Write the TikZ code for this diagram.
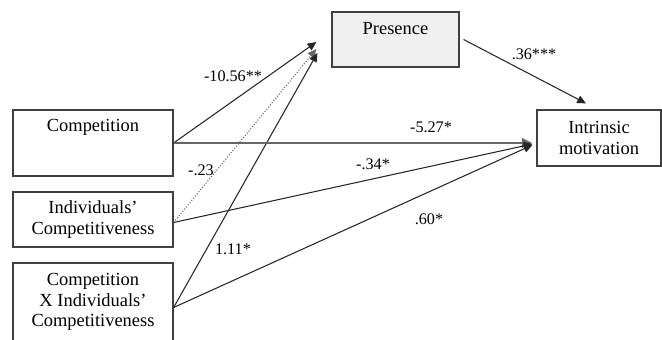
\documentclass[tikz,border=0pt]{standalone}
\usepackage{fontspec}
\setmainfont{Liberation Serif}
\usetikzlibrary{arrows.meta,calc,positioning}

\begin{document}
\begin{tikzpicture}[x=0.02cm, y=-0.02cm,
    box/.style={draw=black!75, line width=0.7pt, inner sep=2pt, align=center, font=\fontsize{10.5}{11.65}\selectfont},
    toptext/.style={anchor=north, align=center, font=\fontsize{10.5}{11.65}\selectfont},
    link/.style={draw=black!85, line width=0.6pt, -{Triangle[length=5pt,width=4.5pt]}},
    mainlink/.style={draw=black!60, line width=1.3pt, -{Triangle[length=6pt,width=5.5pt]}},
    coef/.style={font=\fontsize{9.2}{11}\selectfont}
]
    \useasboundingbox (0,0) rectangle (662,339);

    % Predictor boxes on the left
    \node[box, minimum width=3.2cm, minimum height=1.32cm] (comp) at (93,143) {};
    \node[toptext] (comptext) at ([yshift=-0.08cm]comp.north) {Competition};
    \node[box, minimum width=3.2cm, minimum height=1.1cm] (indiv) at (93,219.5) {Individuals’\\Competitiveness};
    \node[box, minimum width=3.2cm, minimum height=1.78cm] (compx) at (93,307.5) {};
    \node[toptext] (compxtext) at ([yshift=-0.1cm]compx.north) {Competition\\X Individuals’\\Competitiveness};

    % Mediator and outcome
    \node[box, fill=gray!12, minimum width=2.54cm, minimum height=1.1cm] (pres) at (395.5,39.5) {};
    \node[toptext] (prestext) at ([yshift=-0.1cm]pres.north) {Presence};
    \node[box, minimum width=2.48cm, minimum height=1.12cm] (intr) at (599,138) {Intrinsic\\motivation};

    % Paths to presence
    \draw[link] (comp.east) -- ($(pres.west)+(-15,2.5)$);
    \draw[link, densely dotted, draw=black!60] ($(indiv.east)+(0,3)$) -- ($(pres.west)+(-15,9.5)$);
    \draw[link] (compx.east) -- ($(pres.west)+(-14,13.5)$);

    % Paths to intrinsic motivation
    \draw[mainlink] (comp.east) -- ($(intr.west)+(-4,5)$);
    \draw[link] ($(indiv.east)+(0,3)$) -- ($(intr.west)+(-4,6)$);
    \draw[link] (compx.east) -- ($(intr.west)+(-4,7)$);
    \draw[link] ($(pres.east)+(4,0)$) -- ($(intr.north)+(-13,-6)$);

    % Coefficients
    \node[coef] (c1) at (233,76) {-10.56**};
    \node[coef] (c2) at (201,170) {-.23};
    \node[coef] (c3) at (233,249) {1.11*};
    \node[coef] (c4) at (431,127) {-5.27*};
    \node[coef] (c5) at (373,164) {-.34*};
    \node[coef] (c6) at (429,219) {.60*};
    \node[coef] (c7) at (534,54) {.36***};

\end{tikzpicture}
\end{document}
